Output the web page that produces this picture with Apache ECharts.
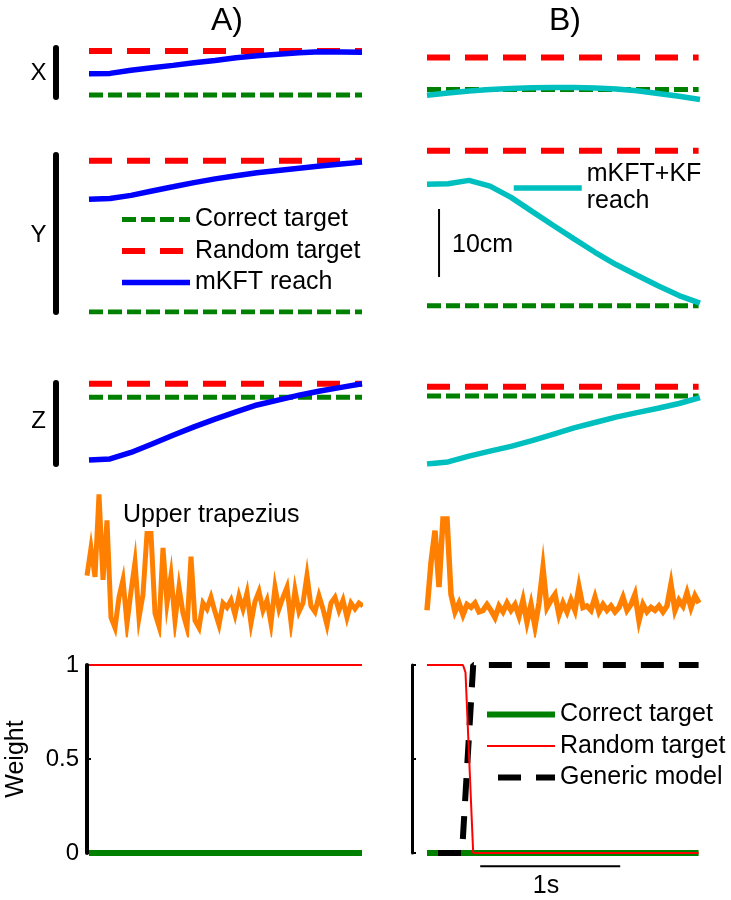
<!DOCTYPE html>
<html>
<head>
<meta charset="utf-8">
<script src="https://cdn.jsdelivr.net/npm/echarts@6/dist/echarts.min.js"></script>
<style>html,body{margin:0;padding:0;background:#fff}#c{width:731px;height:900px}</style>
</head>
<body>
<div id="c"></div>
<script>
// ---------- data (cm for positions, s for time) ----------
const posTime = [0, 0.15, 0.3, 0.45, 0.6, 0.75, 0.9, 1.05, 1.2, 1.35, 1.5, 1.65, 1.8, 1.95];
const targetTime = [0, 1.95];
const targetTimeB = [0, 1.94];
// targets per dimension [X, Y, Z]
const aCorrect = [0.3, 0, 9.8];
const aRandom = [6.76, 22.25, 11.8];
const bCorrect = [1.13, 0.93, 10.0];
const bRandom = [5.84, 23.72, 11.37];
// reaches
const aReachX = [3.43, 3.47, 3.94, 4.3, 4.65, 5.03, 5.37, 5.77, 6.05, 6.3, 6.5, 6.64, 6.63, 6.57];
const aReachY = [16.57, 16.7, 17.15, 17.8, 18.41, 19.03, 19.58, 20.04, 20.49, 20.82, 21.15, 21.46, 21.75, 22.04];
const aReachZ = [0.59, 0.75, 1.7, 2.95, 4.22, 5.46, 6.61, 7.65, 8.68, 9.4, 10.12, 10.73, 11.27, 11.8];
const bReachX = [0.29, 0.62, 0.92, 1.12, 1.28, 1.38, 1.42, 1.43, 1.35, 1.2, 0.95, 0.55, 0.15, -0.35];
const bReachY = [18.78, 18.87, 19.36, 18.52, 16.86, 14.8, 12.76, 10.75, 8.78, 6.98, 5.41, 3.86, 2.42, 1.3];
const bReachZ = [0, 0.3, 1.15, 1.9, 2.6, 3.44, 4.37, 5.3, 6.1, 6.9, 7.55, 8.2, 8.9, 9.75];
// EMG (normalised), one sample every EMG_DT seconds
const EMG_DT = 0.02857;
const emgA = [0.41, 0.60, 0.40, 0.97, 0.38, 0.79, 0.12, 0.05, 0.26, 0.38, 0.08, 0.30, 0.50, 0.12, 0.28,
  0.70, 0.70, 0.15, 0.06, 0.60, 0.22, 0.41, 0.10, 0.33, 0.15, 0.05, 0.54, 0.10, 0.05, 0.22,
  0.18, 0.26, 0.16, 0.07, 0.22, 0.19, 0.24, 0.14, 0.27, 0.18, 0.29, 0.08, 0.23, 0.30, 0.17,
  0.24, 0.08, 0.33, 0.18, 0.26, 0.33, 0.09, 0.31, 0.16, 0.22, 0.41, 0.20, 0.16, 0.27, 0.18,
  0.07, 0.22, 0.26, 0.17, 0.24, 0.12, 0.22, 0.18, 0.22, 0.20];
const emgB = [0.17, 0.50, 0.72, 0.33, 0.80, 0.80, 0.28, 0.16, 0.22, 0.14, 0.21, 0.19, 0.22, 0.16, 0.17,
  0.21, 0.17, 0.12, 0.20, 0.16, 0.22, 0.17, 0.21, 0.13, 0.24, 0.09, 0.21, 0.06, 0.22, 0.46,
  0.19, 0.24, 0.28, 0.14, 0.22, 0.16, 0.24, 0.17, 0.33, 0.19, 0.20, 0.17, 0.26, 0.16, 0.21,
  0.17, 0.20, 0.16, 0.19, 0.26, 0.17, 0.21, 0.28, 0.10, 0.21, 0.16, 0.19, 0.17, 0.20, 0.16,
  0.20, 0.35, 0.17, 0.24, 0.20, 0.29, 0.19, 0.27, 0.22];
// weights
const wTimeA = [0, 1.95];
const aWeightCorrect = [0, 0];
const aWeightRandom = [1, 1];
const wTimeB = [0, 1.94];
const bWeightCorrect = [0, 0];
const bRandomTime = [0, 0.257, 0.275, 0.33, 1.94];
const bWeightRandom = [1, 1, 0.96, 0, 0];
const genericTime = [0, 0.25, 0.33, 1.94];
const bWeightGeneric = [0, 0, 1, 1];
// scale bars
const cmBarTime = [0.086, 0.086];
const cmBar = [5.15, 15.15];       // 10 cm
const sBarTime = [0.38, 1.38];     // 1 s
const sBarLevel = [-0.07, -0.07];

// ---------- layout / style ----------
const FONT = "'Liberation Sans', Arial, Helvetica, sans-serif";
const PX_PER_CM = 6.8;
const PX_PER_S = 140;
const TMAX = 1.95;
const RED = '#FF0000', GREEN = '#008000', BLUE = '#0000FF', CYAN = '#00BFBF', ORANGE = '#FF8000';
const RED_DASH = [23, 15], GREEN_DASH = [14, 5];

// axisX: where the grid (and its y axis line) starts; data time 0 sits at dataX
const gridDefs = [
  {axisX: 55.5, dataX: 89, top: 48, height: 49, ymin: 0, bar: true},      // 0 A-X
  {axisX: 427, dataX: 427, top: 48, height: 56, ymin: -1},                // 1 B-X
  {axisX: 55.5, dataX: 89, top: 155, height: 157, ymin: 0, bar: true},    // 2 A-Y
  {axisX: 427, dataX: 427, top: 145, height: 167, ymin: 0},               // 3 B-Y
  {axisX: 55.5, dataX: 89, top: 383, height: 81, ymin: 0, bar: true},     // 4 A-Z
  {axisX: 427, dataX: 427, top: 383, height: 81, ymin: 0},                // 5 B-Z
  {axisX: 87, dataX: 87, top: 490, height: 145, emg: true},               // 6 A-EMG
  {axisX: 427, dataX: 427, top: 490, height: 145, emg: true},             // 7 B-EMG
  {axisX: 87, dataX: 89, top: 665, height: 188, weight: 'A'},             // 8 A-W
  {axisX: 412, dataX: 427, top: 665, height: 188, weight: 'B'}            // 9 B-W
];

const grid = gridDefs.map(g => ({
  left: g.axisX, top: g.top, height: g.height,
  width: (g.dataX - g.axisX) + TMAX * PX_PER_S
}));
const xAxis = gridDefs.map((g, i) => ({
  gridIndex: i, type: 'value', show: false,
  min: -(g.dataX - g.axisX) / PX_PER_S, max: TMAX
}));
const yAxis = gridDefs.map((g, i) => {
  if (g.emg) return {gridIndex: i, type: 'value', min: 0, max: 1, show: false};
  if (g.weight === 'A') return {
    gridIndex: i, type: 'value', min: 0, max: 1, interval: 0.5,
    axisLine: {show: true, onZero: false, lineStyle: {color: '#000', width: 4}},
    axisTick: {show: true, inside: true, length: 4, lineStyle: {color: '#000', width: 2}},
    axisLabel: {show: true, color: '#000', fontSize: 24, fontFamily: FONT, margin: 8},
    splitLine: {show: false},
    name: 'Weight', nameLocation: 'middle', nameGap: 58,
    nameTextStyle: {color: '#000', fontSize: 25, fontFamily: FONT}
  };
  if (g.weight === 'B') return {
    gridIndex: i, type: 'value', min: 0, max: 1, interval: 0.5,
    axisLine: {show: true, onZero: false, lineStyle: {color: '#000', width: 3}},
    axisTick: {show: true, inside: true, length: 4, lineStyle: {color: '#000', width: 2}},
    axisLabel: {show: false}, splitLine: {show: false}
  };
  const ymax = g.ymin + g.height / PX_PER_CM;
  return {
    gridIndex: i, type: 'value', min: g.ymin, max: ymax,
    show: !!g.bar,
    axisLine: {show: !!g.bar, onZero: false, lineStyle: {color: '#000', width: 6}},
    axisTick: {show: false}, axisLabel: {show: false}, splitLine: {show: false}
  };
});

function pairs(t, v) { return v.map((y, k) => [t[k], y]); }
function constLine(t, v) { return t.map(x => [x, v]); }
function line(idx, name, data, color, width, type, extra) {
  return Object.assign({
    type: 'line', name: name, xAxisIndex: idx, yAxisIndex: idx, data: data,
    symbol: 'none', showSymbol: false, silent: true,
    lineStyle: {color: color, width: width, type: type || 'solid', cap: 'butt'},
    itemStyle: {color: color}
  }, extra || {});
}

const emgTimeA = emgA.map((_, k) => k * EMG_DT);
const emgTimeB = emgB.map((_, k) => k * EMG_DT);

const series = [];
const reachA = [aReachX, aReachY, aReachZ];
const reachB = [bReachX, bReachY, bReachZ];
for (let d = 0; d < 3; d++) {
  const gA = d * 2, gB = d * 2 + 1;
  series.push(line(gA, 'Correct target', constLine(targetTime, aCorrect[d]), GREEN, 5, GREEN_DASH));
  series.push(line(gA, 'Random target', constLine(targetTime, aRandom[d]), RED, 6, RED_DASH));
  series.push(line(gA, 'mKFT reach', pairs(posTime, reachA[d]), BLUE, 5.5, 'solid'));
  series.push(line(gB, 'Correct target', constLine(targetTimeB, bCorrect[d]), GREEN, 5, GREEN_DASH));
  series.push(line(gB, 'Random target', constLine(targetTimeB, bRandom[d]), RED, 6, RED_DASH));
  series.push(line(gB, 'mKFT+KF reach', pairs(posTime, reachB[d]), CYAN, 5.5, 'solid'));
}
series.push(line(3, '10cm bar', pairs(cmBarTime, cmBar), '#000', 2, 'solid'));
series.push(line(6, 'EMG A', pairs(emgTimeA, emgA), ORANGE, 5, 'solid',
  {lineStyle: {color: ORANGE, width: 5, join: 'miter', miterLimit: 10}}));
series.push(line(7, 'EMG B', pairs(emgTimeB, emgB), ORANGE, 5.5, 'solid',
  {lineStyle: {color: ORANGE, width: 5.5, join: 'miter', miterLimit: 10}}));
series.push(line(8, 'Correct target ', pairs(wTimeA, aWeightCorrect), GREEN, 6, 'solid'));
series.push(line(8, 'Random target ', pairs(wTimeA, aWeightRandom), RED, 2, 'solid'));
series.push(line(9, 'Correct target ', pairs(wTimeB, bWeightCorrect), GREEN, 6, 'solid'));
series.push(line(9, 'Generic model', pairs(genericTime, bWeightGeneric), '#000', 6, RED_DASH,
  {lineStyle: {color: '#000', width: 6, type: RED_DASH, dashOffset: 27, cap: 'butt'}}));
series.push(line(9, 'Random target ', pairs(bRandomTime, bWeightRandom), RED, 2, 'solid'));
series.push(line(9, '1s bar', pairs(sBarTime, sBarLevel), '#000', 2, 'solid', {clip: false}));

const legendText = {fontSize: 25, fontFamily: FONT, color: '#000', lineHeight: 22};
const legend = [
  {
    left: 119, top: 207, padding: 0, orient: 'vertical', itemWidth: 68, itemHeight: 14, itemGap: 6.5,
    selectedMode: false, formatter: n => n.trim(), textStyle: legendText,
    itemStyle: {opacity: 0},
    data: [
      {name: 'Correct target', lineStyle: {width: 5, type: GREEN_DASH, color: GREEN}},
      {name: 'Random target', lineStyle: {width: 6, type: RED_DASH, color: RED}},
      {name: 'mKFT reach', lineStyle: {width: 5.5, color: BLUE}}
    ]
  },
  {
    left: 511, top: 158, padding: 0, orient: 'vertical', itemWidth: 68, itemHeight: 14,
    selectedMode: false, formatter: () => 'mKFT+KF\nreach',
    textStyle: {fontSize: 25, fontFamily: FONT, color: '#000', lineHeight: 27, padding: [6, 0, 0, 0]},
    itemStyle: {opacity: 0},
    data: [{name: 'mKFT+KF reach', lineStyle: {width: 5.5, color: CYAN}}]
  },
  {
    left: 484, top: 702, padding: 0, orient: 'vertical', itemWidth: 68, itemHeight: 14, itemGap: 6.5,
    selectedMode: false, formatter: n => n.trim(), textStyle: legendText,
    itemStyle: {opacity: 0},
    data: [
      {name: 'Correct target ', lineStyle: {width: 6, color: GREEN}},
      {name: 'Random target ', lineStyle: {width: 2, color: RED}},
      {name: 'Generic model', lineStyle: {width: 6, type: RED_DASH, color: '#000'}}
    ]
  }
];

function txt(x, y, s, size, align) {
  return {type: 'text', x: x, y: y, silent: true,
    style: {text: s, fontSize: size, fontFamily: FONT, fill: '#000', align: align || 'center', verticalAlign: 'middle'}};
}
const graphic = [
  txt(227, 21, 'A)', 32), txt(565, 21, 'B)', 32),
  txt(38.5, 73.5, 'X', 24), txt(38.5, 235, 'Y', 24), txt(38.5, 421, 'Z', 24),
  txt(123, 515, 'Upper trapezius', 25, 'left'),
  txt(452, 245, '10cm', 25, 'left'),
  txt(546, 886, '1s', 25)
];

const chart = echarts.init(document.getElementById('c'), null, {renderer: 'canvas'});
chart.setOption({
  animation: false, backgroundColor: '#fff',
  grid: grid, xAxis: xAxis, yAxis: yAxis, series: series, legend: legend, graphic: graphic
});
</script>
</body>
</html>
